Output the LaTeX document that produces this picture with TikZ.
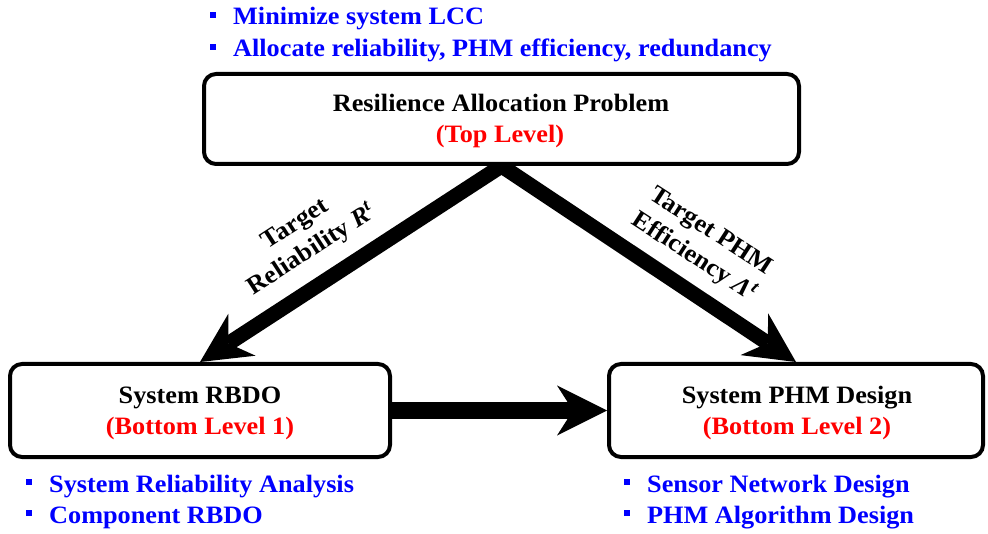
\documentclass[tikz,border=0pt]{standalone}
\usepackage{fontspec}
\setmainfont{Liberation Serif}[FakeStretch=1.05]
\usetikzlibrary{arrows.meta}
\pgfdeclarelayer{bg}
\pgfsetlayers{bg,main}
\definecolor{txtblue}{RGB}{0,0,255}
\definecolor{txtred}{RGB}{255,0,0}
\newcommand\sqbul{\raisebox{7pt}{\rule{6pt}{6pt}}\hspace{17pt}}
\begin{document}
\begin{tikzpicture}[x=1pt,y=-1pt,
  box/.style={draw=black,line width=4pt,rounded corners=12pt,fill=white,inner sep=0pt},
  txt/.style={font=\fontsize{25}{31}\selectfont\bfseries,inner sep=0pt,anchor=base},
  bul/.style={font=\fontsize{25}{31}\selectfont\bfseries,text=txtblue,inner sep=0pt,anchor=base west},
  lvl/.style={txt,text=txtred},
  lbl/.style={font=\fontsize{25}{31}\selectfont\bfseries,inner sep=0pt,align=center},
  bigarrow/.style={line width=#1,-{Stealth[length=50pt,width=50pt,inset=16pt,line width=0pt]}},
]
\useasboundingbox (0,0) rectangle (988,534);
% boxes
\node[box,minimum width=595pt,minimum height=90pt] (top) at (501.5,119) {};
\node[box,minimum width=380pt,minimum height=93pt] (rbdo) at (200,410.5) {};
\node[box,minimum width=374pt,minimum height=93pt] (phm) at (796,410.5) {};
% box texts
\node[txt] (toptitle) at (501,112) {Resilience Allocation Problem};
\node[lvl] (toplvl) at (500,143) {(Top Level)};
\node[txt] (rbdotitle) at (200,403) {System RBDO};
\node[lvl] (rbdolvl) at (200,435) {(Bottom Level 1)};
\node[txt] (phmtitle) at (797,403) {System PHM Design};
\node[lvl] (phmlvl) at (797,435) {(Bottom Level 2)};
% bullets
\node[bul] (b1) at (210,25) {\sqbul Minimize system LCC};
\node[bul] (b2) at (210,57) {\sqbul Allocate reliability, PHM efficiency, redundancy};
\node[bul] (b3) at (26,492) {\sqbul System Reliability Analysis};
\node[bul] (b4) at (26,523) {\sqbul Component RBDO};
\node[bul] (b5) at (624,492) {\sqbul Sensor Network Design};
\node[bul] (b6) at (624,523) {\sqbul PHM Algorithm Design};
% connectors
\begin{pgfonlayer}{bg}
\draw[bigarrow=15pt] (top.south) -- (rbdo.north);
\draw[bigarrow=15pt] (top.south) -- (phm.north);
\end{pgfonlayer}
\draw[bigarrow=17pt] (rbdo.east) -- (phm.west);
% labels
\node[lbl,rotate=33] (lblR) at (304,238) {Target\\Reliability \textit{R}\textsuperscript{\textit{t}}};
\node[lbl,rotate=-33] (lblL) at (702,245) {Target PHM\\Efficiency \textit{Λ}\textsuperscript{\textit{t}}};
\end{tikzpicture}
\end{document}
